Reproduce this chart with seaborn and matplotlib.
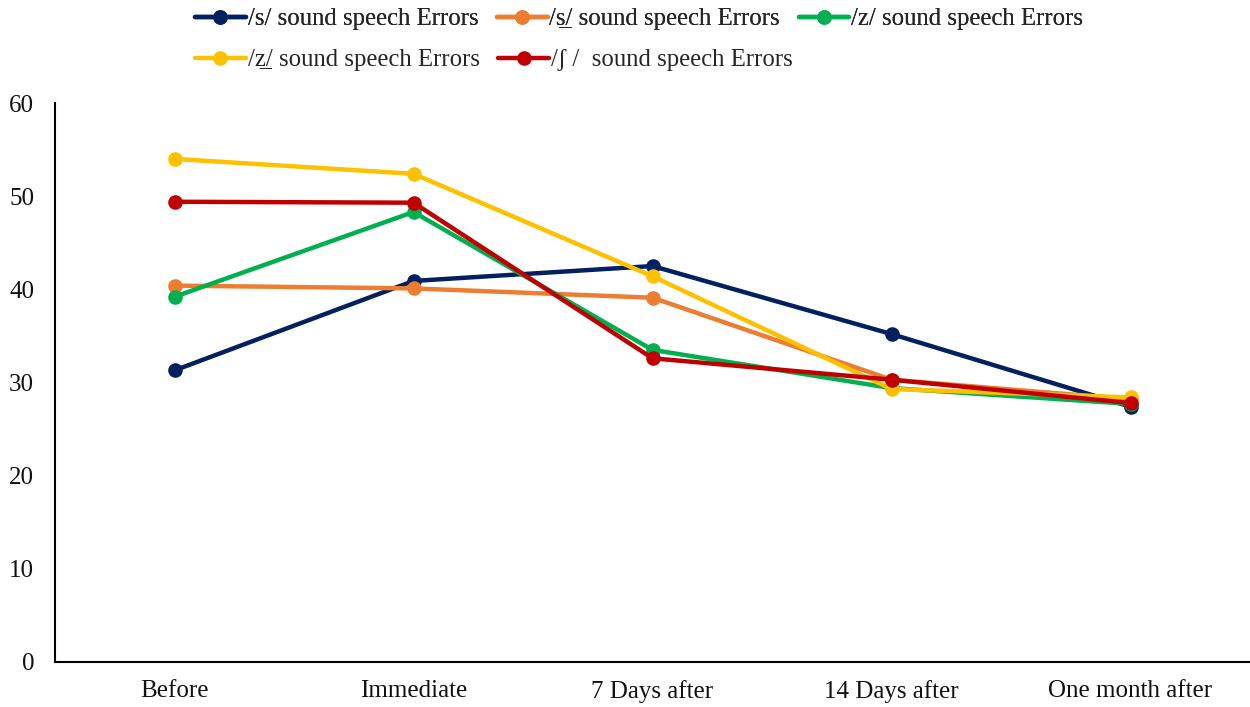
import matplotlib
matplotlib.use("Agg")
import matplotlib.pyplot as plt
import seaborn as sns
import pandas as pd

# Time points and error scores for each sound
timepoints = ["Before", "Immediate", "7 Days after", "14 Days after", "One month after"]
s_errors = [31.3, 40.9, 42.5, 35.2, 27.4]
s_emph_errors = [40.4, 40.1, 39.1, 30.3, 28.2]
z_errors = [39.2, 48.3, 33.5, 29.4, 27.7]
z_emph_errors = [54.0, 52.4, 41.4, 29.3, 28.4]
sh_errors = [49.4, 49.3, 32.6, 30.3, 27.8]

series_labels = [
    "/s/ sound speech Errors",
    "/s\u0332/ sound speech Errors",
    "/z/ sound speech Errors",
    "/z\u0332/ sound speech Errors",
    "/ʃ /  sound speech Errors",
]
series_values = [s_errors, s_emph_errors, z_errors, z_emph_errors, sh_errors]
series_colors = ["#002060", "#ED7D31", "#00B050", "#FFC000", "#C00000"]
y_ticks = [0, 10, 20, 30, 40, 50, 60]

sns.set_theme(style="white")
plt.rcParams["font.family"] = ["Liberation Serif", "DejaVu Serif"]

rows = []
for label, vals in zip(series_labels, series_values):
    for t, v in zip(timepoints, vals):
        rows.append({"time": t, "value": v, "series": label})
df = pd.DataFrame(rows)

fig = plt.figure(figsize=(12.5, 7.07), dpi=100)
ax = fig.add_axes([55 / 1250, 1 - 662 / 707, 1 - 55 / 1250, (662 - 103) / 707])

sns.lineplot(
    data=df, x="time", y="value", hue="series",
    hue_order=series_labels, palette=series_colors,
    marker="o", markersize=10.5, markeredgewidth=0,
    linewidth=3.2, ax=ax, legend=True, sort=False,
)

ax.set_xlim(-0.5, 4.5)
ax.set_ylim(0, 60)
ax.set_yticks(y_ticks)
ax.set_xlabel("")
ax.set_ylabel("")
for side in ["top", "right"]:
    ax.spines[side].set_visible(False)
for side in ["left", "bottom"]:
    ax.spines[side].set_color("black")
    ax.spines[side].set_linewidth(1.5)
ax.tick_params(axis="both", length=0, labelsize=18, colors="#111111")
ax.tick_params(axis="y", pad=15)
ax.tick_params(axis="x", pad=13)

handles, labels = ax.get_legend_handles_labels()
ax.get_legend().remove()

# Legend laid out as two independent rows
legend_kw = dict(
    loc="center left", frameon=False, fontsize=17.8, handlelength=2.05,
    handletextpad=0.08, columnspacing=0.75, borderpad=0, borderaxespad=0,
)
row1 = fig.legend(handles[:3], labels[:3], ncol=3,
                  bbox_to_anchor=(195 / 1250, 1 - 19 / 707), **legend_kw)
fig.add_artist(row1)
fig.legend(handles[3:], labels[3:], ncol=2,
           bbox_to_anchor=(195 / 1250, 1 - 60 / 707), **legend_kw)

fig.savefig("out.png", dpi=100)
